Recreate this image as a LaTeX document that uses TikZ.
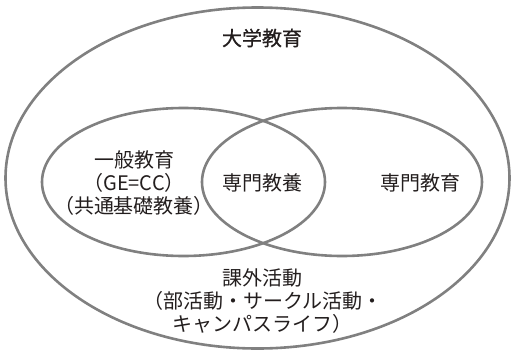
\documentclass[tikz,border=0pt]{standalone}
\usepackage{fontspec}
\newfontfamily\jp{Noto Sans CJK JP}
\newfontfamily\jpm{Noto Sans CJK JP}[FakeBold=0.8]
\definecolor{ringgray}{RGB}{128,128,128}
\definecolor{txt}{RGB}{35,30,30}
\begin{document}
\begin{tikzpicture}[x=1pt,y=-1pt,
  ring/.style={draw=ringgray,line width=2.6pt},
  lbl/.style={font=\jp\fontsize{20}{23}\selectfont,text=txt,align=center,inner sep=0pt}]
\useasboundingbox (0,0) rectangle (515,351);
\draw[ring] (257.5,178) ellipse [x radius=252,y radius=170.5];
\draw[ring] (183.5,182) ellipse [x radius=141.5,y radius=74];
\draw[ring] (342,182) ellipse [x radius=140,y radius=74];
\node[lbl,font=\jpm\fontsize{20}{23}\selectfont] (top) at (262,38) {大学教育};
\node[lbl] (gen) at (134,183) {一般教育\\（GE=CC）\\（共通基礎教養）};
\node[lbl] (mid) at (262,183) {専門教養};
\node[lbl] (spec) at (420,183) {専門教育};
\node[lbl] (extra) at (263,301) {課外活動\\（部活動・サークル活動・\\キャンパスライフ）};
\end{tikzpicture}
\end{document}
